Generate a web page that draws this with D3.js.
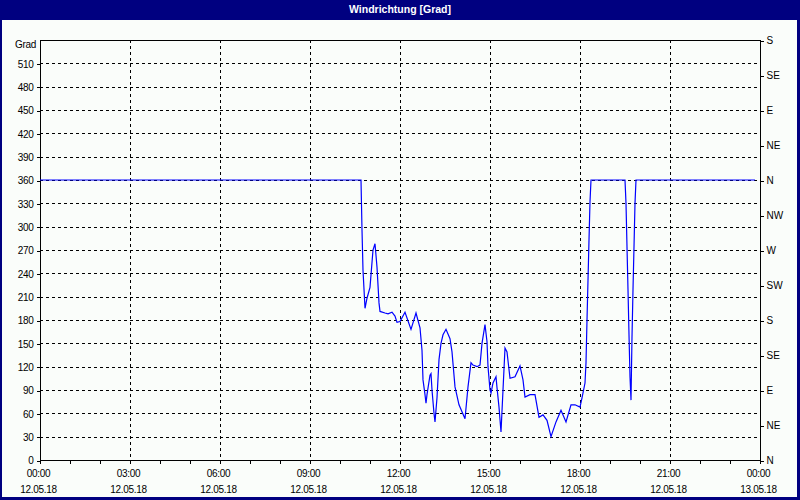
<!DOCTYPE html>
<html>
<head>
<meta charset="utf-8">
<script src="https://cdn.jsdelivr.net/npm/d3@7"></script>
<style>
html,body{margin:0;padding:0;background:#fff;}
svg{display:block;}
text{font-family:"Liberation Sans",Arial,sans-serif;}
</style>
</head>
<body>
<svg id="chart" width="800" height="500"></svg>
<script>
// ---- data ----
const title = "Windrichtung [Grad]";
const yUnit = "Grad";
const times = ["00:00","10:42","10:44","10:46","10:50","10:54","11:00","11:06","11:10","11:14","11:18","11:20","11:30","11:36","11:44","11:50","11:54","12:00","12:10","12:22","12:32","12:40","12:44","12:46","12:50","12:52","12:54","13:00","13:02","13:04","13:08","13:10","13:14","13:18","13:22","13:26","13:32","13:40","13:44","13:50","13:58","14:10","14:16","14:22","14:26","14:34","14:40","14:44","14:50","14:54","14:56","15:00","15:02","15:06","15:12","15:14","15:18","15:22","15:26","15:30","15:34","15:40","15:50","16:00","16:06","16:10","16:20","16:30","16:38","16:46","16:54","17:02","17:12","17:22","17:32","17:42","17:50","18:00","18:04","18:10","18:12","18:14","18:16","18:18","18:20","18:22","19:30","19:32","19:34","19:36","19:38","19:40","19:42","19:44","19:46","19:48","19:50","19:52","23:50"];
const values = [360,360,296,244,195,208,222,270,278,248,202,191,189,188,190,185,177,178,190,168,189,170,141,103,84,73,84,109,111,90,60,49,80,129,150,161,168,156,139,94,71,53,94,125,122,120,122,150,174,152,120,90,86,99,107,93,68,36,90,144,139,105,107,121,103,81,84,84,55,58,51,30,49,64,49,71,71,68,80,99,125,180,231,283,332,360,360,330,274,219,161,107,77,158,219,274,330,360,360];
const yTicks = [0,30,60,90,120,150,180,210,240,270,300,330,360,390,420,450,480,510];
const yMax = 540;
const compassTicks = [0,45,90,135,180,225,270,315,360,405,450,495,540];
const compassLabels = ["N","NE","E","SE","S","SW","W","NW","N","NE","E","SE","S"];
const xTickHours = [0,3,6,9,12,15,18,21,24];
const xTimeLabels = ["00:00","03:00","06:00","09:00","12:00","15:00","18:00","21:00","00:00"];
const xDateLabels = ["12.05.18","12.05.18","12.05.18","12.05.18","12.05.18","12.05.18","12.05.18","12.05.18","13.05.18"];

// ---- layout ----
const W = 800, H = 500;
const L = 40, R = 760, T = 40, B = 460;
const svg = d3.select("#chart");

const toMin = s => { const [h,m] = s.split(":").map(Number); return h*60+m; };
const x = d3.scaleLinear().domain([0, 1440]).range([L, R]);
const y = d3.scaleLinear().domain([0, yMax]).range([B, T]);

// background & window frame
svg.append("rect").attr("x",0).attr("y",0).attr("width",W).attr("height",H).attr("fill","#000080");
svg.append("rect").attr("x",2).attr("y",20).attr("width",W-5).attr("height",H-23).attr("fill","#fafdfa");

svg.append("text").attr("x",W/2).attr("y",13).attr("text-anchor","middle")
  .attr("fill","#ffffff").attr("font-weight","bold").attr("font-size","10.5px").text(title);

// grid
const grid = svg.append("g").attr("shape-rendering","crispEdges");
grid.selectAll("line.h").data(yTicks.filter(v => v > 0)).join("line")
  .attr("x1",L).attr("x2",R).attr("y1",d => Math.round(y(d))+0.5).attr("y2",d => Math.round(y(d))+0.5)
  .attr("stroke","#000").attr("stroke-dasharray","3,3");
grid.selectAll("line.v").data(xTickHours.filter(h => h > 0 && h < 24)).join("line")
  .attr("y1",T).attr("y2",B).attr("x1",d => Math.round(x(d*60))+0.5).attr("x2",d => Math.round(x(d*60))+0.5)
  .attr("stroke","#000").attr("stroke-dasharray","3,3");

// frame
svg.append("rect").attr("x",L+0.5).attr("y",T+0.5).attr("width",R-L).attr("height",B-T)
  .attr("fill","none").attr("stroke","#000").attr("shape-rendering","crispEdges");

// left axis
const yAxis = d3.axisLeft(y).tickValues(yTicks).tickSize(4).tickPadding(3).tickFormat(d3.format("d"));
const gy = svg.append("g").attr("transform",`translate(${L+0.5},0.5)`).call(yAxis);
gy.select(".domain").remove();
gy.selectAll("line").attr("shape-rendering","crispEdges");
gy.selectAll("text").attr("font-size","10px").attr("letter-spacing","-0.3px").attr("fill","#000");
svg.append("text").attr("x",L-4).attr("y",T+8).attr("text-anchor","end")
  .attr("font-size","10px").attr("letter-spacing","-0.3px").text(yUnit);

// right axis (compass)
const yR = d3.axisRight(y).tickValues(compassTicks).tickSize(3).tickPadding(3)
  .tickFormat((d,i) => compassLabels[i]);
const gr = svg.append("g").attr("transform",`translate(${R+0.5},0.5)`).call(yR);
gr.select(".domain").remove();
gr.selectAll("line").attr("shape-rendering","crispEdges");
gr.selectAll("text").attr("font-size","10px").attr("fill","#000");

// bottom axis ticks every hour
const hours = d3.range(0, 25);
svg.append("g").attr("shape-rendering","crispEdges").selectAll("line").data(hours).join("line")
  .attr("x1",d => Math.round(x(d*60))+0.5).attr("x2",d => Math.round(x(d*60))+0.5)
  .attr("y1",B).attr("y2",B+4).attr("stroke","#000");
const xl = svg.append("g");
xl.selectAll("text.t").data(xTickHours).join("text")
  .attr("x",d => x(d*60)-1.5).attr("y",477).attr("text-anchor","middle")
  .attr("font-size","10px").attr("letter-spacing","-0.3px").text((d,i) => xTimeLabels[i]);
xl.selectAll("text.d").data(xTickHours).join("text")
  .attr("x",d => x(d*60)-1.5).attr("y",493).attr("text-anchor","middle")
  .attr("font-size","10px").attr("letter-spacing","-0.3px").text((d,i) => xDateLabels[i]);

// series line
const pts = times.map((t,i) => [toMin(t), values[i]]);
const line = d3.line().x(d => x(d[0])).y(d => y(d[1]));
svg.append("path").datum(pts).attr("d",line)
  .attr("fill","none").attr("stroke","#0000ff").attr("stroke-width",1.2);
</script>
</body>
</html>
